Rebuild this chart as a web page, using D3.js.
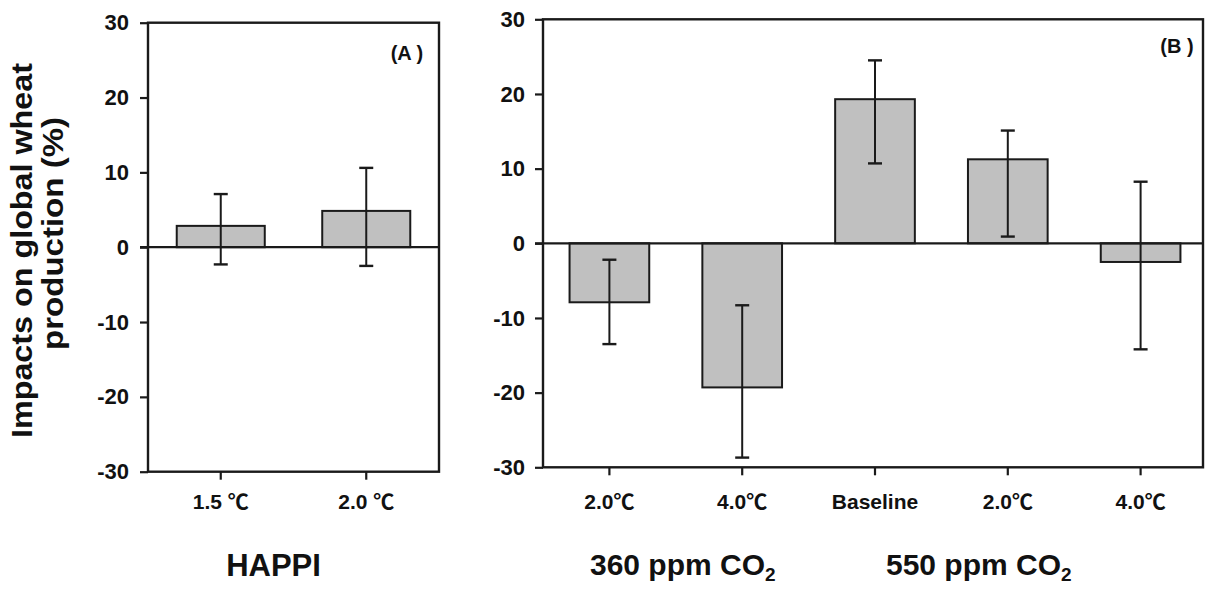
<!DOCTYPE html>
<html>
<head>
<meta charset="utf-8">
<script src="https://cdn.jsdelivr.net/npm/d3@7"></script>
<style>
  html, body { margin: 0; padding: 0; background: #fff; }
  svg { display: block; }
  text { font-family: "Liberation Sans", Arial, "Noto Sans CJK SC", sans-serif; fill: #111; }
</style>
</head>
<body>
<svg id="chart" width="1207" height="589"></svg>
<script>
// ---------------- data ----------------
const yTickValues = [-30, -20, -10, 0, 10, 20, 30];

const panelACategories = ["1.5 \u2103", "2.0 \u2103"];
const panelAValues   = [2.85, 4.85];
const panelAErrHigh  = [7.1, 10.6];
const panelAErrLow   = [-2.3, -2.5];

const panelBCategories = ["2.0\u2103", "4.0\u2103", "Baseline", "2.0\u2103", "4.0\u2103"];
const panelBValues   = [-7.9, -19.3, 19.3, 11.25, -2.5];
const panelBErrHigh  = [-2.2, -8.3, 24.5, 15.1, 8.25];
const panelBErrLow   = [-13.5, -28.7, 10.7, 0.9, -14.2];

const panelALabel = "(A )";
const panelBLabel = "(B )";
const groupLabelA = "HAPPI";
const groupLabelsB = ["360 ppm CO", "550 ppm CO"];
const yTitleLines = ["Impacts on global wheat", "production (%)"];

// ---------------- drawing ----------------
const svg = d3.select("#chart");
const barFill = "#c0c0c0";
const ink = "#1a1a1a";

function drawPanel(opts) {
  const g = svg.append("g");
  const idx = opts.categories.map((d, i) => i);
  const x = d3.scaleBand().domain(idx).range(opts.xBandRange)
    .paddingInner(opts.padInner).paddingOuter(opts.padOuter);
  const y = d3.scaleLinear().domain([-30, 30]).range([opts.bottom, opts.top]);

  // bars
  g.selectAll("rect.bar").data(opts.values).join("rect")
    .attr("class", "bar")
    .attr("x", (d, i) => x(i))
    .attr("width", x.bandwidth())
    .attr("y", d => y(Math.max(0, d)))
    .attr("height", d => Math.abs(y(d) - y(0)))
    .attr("fill", barFill)
    .attr("stroke", ink)
    .attr("stroke-width", 2);

  // zero line
  g.append("line")
    .attr("x1", opts.left - 8).attr("x2", opts.right)
    .attr("y1", y(0)).attr("y2", y(0))
    .attr("stroke", ink).attr("stroke-width", 2.2);

  // error bars
  const cap = 7;
  opts.values.forEach((v, i) => {
    const cx = x(i) + x.bandwidth() / 2;
    const hi = opts.errHigh[i], lo = opts.errLow[i];
    g.append("line").attr("x1", cx).attr("x2", cx)
      .attr("y1", y(hi)).attr("y2", y(lo))
      .attr("stroke", ink).attr("stroke-width", 2);
    [hi, lo].forEach(e => {
      g.append("line").attr("x1", cx - cap).attr("x2", cx + cap)
        .attr("y1", y(e)).attr("y2", y(e))
        .attr("stroke", ink).attr("stroke-width", 2.4);
    });
  });

  // frame
  g.append("rect")
    .attr("x", opts.left).attr("y", opts.top)
    .attr("width", opts.right - opts.left).attr("height", opts.bottom - opts.top)
    .attr("fill", "none").attr("stroke", ink).attr("stroke-width", 2.4);

  // y axis
  const yAxis = d3.axisLeft(y).tickValues(yTickValues).tickSize(8).tickPadding(opts.yPad)
    .tickFormat(d => String(d));
  const ya = g.append("g").attr("transform", `translate(${opts.left},0)`).call(yAxis);
  ya.select(".domain").remove();
  ya.selectAll(".tick line").attr("stroke", ink).attr("stroke-width", 2.2);
  ya.selectAll(".tick text")
    .style("font-family", '"Liberation Sans", Arial, sans-serif')
    .style("font-size", "22px").style("font-weight", "bold").attr("fill", "#111");

  // x axis
  const xAxis = d3.axisBottom(x).tickSize(8).tickPadding(opts.xPad)
    .tickFormat(i => opts.categories[i]);
  const xa = g.append("g").attr("transform", `translate(0,${opts.bottom})`).call(xAxis);
  xa.select(".domain").remove();
  xa.selectAll(".tick line").attr("stroke", ink).attr("stroke-width", 2.2);
  xa.selectAll(".tick text")
    .style("font-family", '"Liberation Sans", Arial, "Noto Sans CJK SC", sans-serif')
    .style("font-size", "21px").style("font-weight", "bold").attr("fill", "#111");

  // panel label
  g.append("text")
    .attr("x", opts.labelPos[0]).attr("y", opts.labelPos[1])
    .attr("text-anchor", "middle")
    .style("font-size", "20px").style("font-weight", "bold")
    .text(opts.label);

  return { x, y, g };
}

const A = drawPanel({
  categories: panelACategories, values: panelAValues,
  errHigh: panelAErrHigh, errLow: panelAErrLow,
  left: 148, right: 439, top: 22.7, bottom: 471.7,
  xBandRange: [148, 439], padInner: 0.395, padOuter: 0.1975,
  yPad: 11, xPad: 14, label: panelALabel, labelPos: [407, 60]
});

const B = drawPanel({
  categories: panelBCategories, values: panelBValues,
  errHigh: panelBErrHigh, errLow: panelBErrLow,
  left: 543, right: 1203, top: 19.3, bottom: 467.3,
  xBandRange: [543, 1207], padInner: 0.4, padOuter: 0.2,
  yPad: 10, xPad: 19, label: panelBLabel, labelPos: [1177, 53]
});

// group labels
svg.append("text")
  .attr("x", 273.5).attr("y", 576)
  .attr("text-anchor", "middle")
  .style("font-size", "31px").style("font-weight", "bold")
  .text(groupLabelA);

const bx = B.x, bw = B.x.bandwidth();
const groupCentersB = [
  (bx(0) + bx(1) + bw) / 2 + 7,
  (bx(2) + bx(4) + bw) / 2 - 29
];
groupLabelsB.forEach((lbl, k) => {
  const t = svg.append("text")
    .attr("x", groupCentersB[k]).attr("y", 575)
    .attr("text-anchor", "middle")
    .style("font-size", "30px").style("font-weight", "bold");
  t.append("tspan").text(lbl);
  t.append("tspan").attr("dy", 6).style("font-size", "19px").text("2");
});

// y axis title
svg.append("text")
  .attr("transform", "translate(32,250.5) rotate(-90)")
  .attr("text-anchor", "middle")
  .attr("textLength", 375).attr("lengthAdjust", "spacingAndGlyphs")
  .style("font-size", "29px").style("font-weight", "bold")
  .text(yTitleLines[0]);
svg.append("text")
  .attr("transform", "translate(63,233.5) rotate(-90)")
  .attr("text-anchor", "middle")
  .attr("textLength", 233).attr("lengthAdjust", "spacingAndGlyphs")
  .style("font-size", "29px").style("font-weight", "bold")
  .text(yTitleLines[1]);
</script>
</body>
</html>
